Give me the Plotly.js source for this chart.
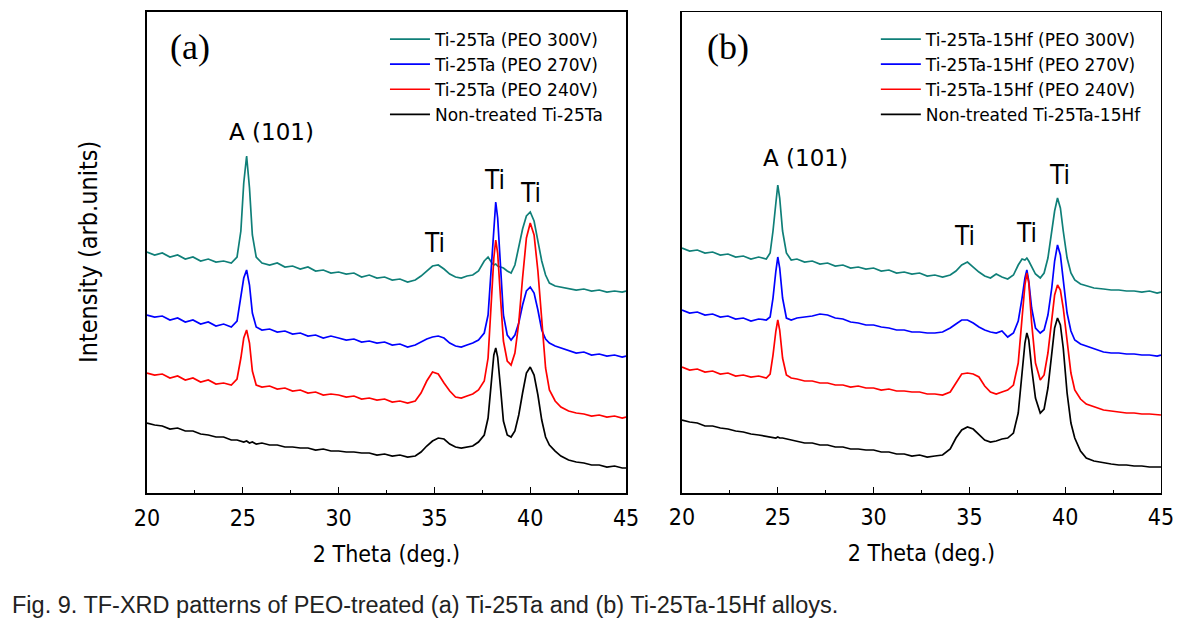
<!DOCTYPE html>
<html>
<head>
<meta charset="utf-8">
<script src="https://cdn.plot.ly/plotly-3.0.1.min.js"></script>
<style>html,body{margin:0;padding:0;background:#fff;}#chart{width:1190px;height:632px;}</style>
</head>
<body>
<div id="chart"></div>
<script>
// ---- Panel (a): Ti-25Ta ----
const thetaA = [20,20.4,20.8,21.2,21.6,22,22.4,22.8,23.2,23.6,24,24.4,24.7,24.9,25.05,25.2,25.35,25.5,25.7,26,26.4,26.8,27.2,27.6,28,28.4,28.8,29.2,29.6,30,30.4,30.8,31.2,31.6,32,32.4,32.8,33.2,33.6,34,34.3,34.6,34.9,35.2,35.5,35.8,36.1,36.4,36.7,37,37.3,37.6,37.8,38,38.1,38.2,38.3,38.45,38.6,38.8,39,39.2,39.4,39.6,39.8,40,40.2,40.4,40.6,40.8,41,41.3,41.6,42,42.4,42.8,43.2,43.6,44,44.4,44.8,45];
const a300 = [241,238,240,236,238,234,236,232,234,231,232,230,236,262,310,337,305,258,236,230,228,230,226,227,224,226,222,223,220,221,219,220,216,218,215,216,213,214,211,213,217,222,227,228,224,219,216,215,217,218,222,232,236,230,228,229,227,226,225,222,220,228,245,264,277,281,272,253,232,218,210,207,206,205,203,204,202,203,201,202,201,202];
const a270 = [178,176,177,173,175,171,173,169,171,167,169,166,172,195,215,223,208,180,166,163,164,161,162,159,160,157,158,155,157,155,153,154,151,152,150,151,148,149,146,148,151,154,156,157,155,150,147,146,148,150,153,160,178,235,270,291,275,225,178,158,153,158,170,188,202,206,200,183,163,154,150,147,145,142,140,141,138,139,137,138,136,137];
const a240 = [120,118,119,115,117,113,115,111,113,109,110,108,114,135,155,163,150,122,108,106,107,104,105,102,103,100,101,98,99,98,96,97,94,95,93,94,91,92,90,92,100,112,121,119,110,102,96,95,97,99,103,112,135,195,235,253,240,195,152,132,128,140,170,215,255,270,258,222,170,125,103,92,86,82,80,79,77,78,76,77,75,76];
const a0 = [70,68,67,64,65,62,62,59,58,56,56,53,53,52,51,52,50,51,49,50,48,48,46,46,45,45,43,44,42,42,41,41,40,40,38,39,37,38,36,37,41,47,52,55,54,49,46,45,46,47,51,58,75,118,138,145,136,105,72,58,56,62,78,100,120,126,118,98,73,56,48,42,37,33,31,30,28,28,26,27,25,25];

// ---- Panel (b): Ti-25Ta-15Hf ----
const thetaB = [20,20.4,20.8,21.2,21.6,22,22.4,22.8,23.2,23.6,24,24.4,24.6,24.75,24.9,25.0,25.1,25.25,25.45,25.7,26,26.4,26.8,27.2,27.6,28,28.4,28.8,29.2,29.6,30,30.4,30.8,31.2,31.6,32,32.4,32.8,33.2,33.6,34,34.3,34.6,34.9,35.2,35.5,35.8,36.1,36.4,36.7,37,37.3,37.55,37.75,37.9,38.0,38.1,38.25,38.45,38.7,38.9,39.1,39.3,39.45,39.6,39.75,39.9,40.1,40.3,40.5,40.8,41.1,41.5,42,42.4,42.8,43.2,43.6,44,44.4,44.8,45];
const b300 = [245,242,243,240,241,238,239,236,237,234,236,234,240,262,290,308,295,262,240,233,234,231,232,229,230,227,228,225,226,224,225,222,223,220,221,219,220,217,218,216,218,222,228,231,226,221,217,215,219,216,214,218,228,234,233,235,232,226,219,215,220,235,262,282,295,285,262,235,220,213,209,207,205,204,203,203,202,202,201,202,200,201];
const b270 = [183,180,181,178,179,176,177,174,175,172,174,173,176,195,222,236,225,195,175,173,175,176,177,179,178,175,174,171,170,168,168,166,165,163,163,161,161,160,160,161,165,169,173,173,170,166,163,161,160,162,156,160,172,195,215,223,212,185,165,160,163,178,205,232,248,238,212,180,162,153,149,147,144,141,140,140,139,139,138,138,137,138];
const b240 = [126,123,124,121,122,119,120,117,118,116,117,115,119,138,162,173,163,135,118,115,114,112,112,110,110,108,108,106,107,105,105,103,104,102,102,101,101,99,99,98,101,110,119,120,119,116,107,101,99,101,103,108,130,175,208,220,210,170,130,113,118,140,175,198,208,203,185,150,120,103,94,89,86,83,82,81,80,80,79,79,78,78];
const b0 = [73,71,70,67,67,65,64,62,61,59,58,57,56,56,55,56,55,55,54,53,52,50,50,48,48,46,46,44,44,43,43,41,41,39,39,37,38,36,37,38,44,55,63,66,64,58,53,51,52,54,55,60,80,120,150,160,153,125,95,80,84,105,140,165,175,168,145,100,70,55,42,35,32,30,29,28,28,27,27,26,26,26];

const namesA = ['Ti-25Ta (PEO 300V)','Ti-25Ta (PEO 270V)','Ti-25Ta (PEO 240V)','Non-treated Ti-25Ta'];
const namesB = ['Ti-25Ta-15Hf (PEO 300V)','Ti-25Ta-15Hf (PEO 270V)','Ti-25Ta-15Hf (PEO 240V)','Non-treated Ti-25Ta-15Hf'];
const colors = ['#0f7f78','#0000ff','#ff0000','#000000'];
const tickVals = [20,25,30,35,40,45];

const seriesA = [a300,a270,a240,a0];
const seriesB = [b300,b270,b240,b0];
const traces = [];
seriesA.forEach((s,i)=>traces.push({x:thetaA,y:s,type:'scatter',mode:'lines',name:namesA[i],line:{color:colors[i],width:1.7},xaxis:'x',yaxis:'y',legend:'legend'}));
seriesB.forEach((s,i)=>traces.push({x:thetaB,y:s,type:'scatter',mode:'lines',name:namesB[i],line:{color:colors[i],width:1.7},xaxis:'x2',yaxis:'y2',legend:'legend2'}));

const cond = 'DejaVu Sans Condensed, Liberation Sans Narrow, sans-serif';
const tickFont = {family:cond,size:23,color:'#000'};
const xLabFont = {family:cond,size:23,color:'#000'};
const yLabFont = {family:cond,size:25,color:'#000'};
const aFont = {family:'DejaVu Sans, sans-serif',size:23,color:'#000'};
const tiFont = {family:cond,size:26,color:'#000'};
const legFont = {family:'DejaVu Sans, sans-serif',size:17,color:'#000'};

function xax(domain, lw){
  return {domain:domain, range:[20,45], tickvals:tickVals, ticktext:tickVals.map(String), ticks:'inside', ticklen:6, tickwidth:1.3, tickcolor:'#000',
    minor:{dtick:2.5, tick0:20, ticks:'inside', ticklen:3.5, tickwidth:1, tickcolor:'#000'},
    showline:true, linecolor:'#000', linewidth:lw, mirror:true, showgrid:false, zeroline:false, tickfont:tickFont, ticklabelstandoff:3,
    title:{text:'2 Theta (deg.)', font:xLabFont, standoff:16}, fixedrange:true};
}
function yax(lw, anchor){
  return {domain:[0.2199,0.981], range:[0,481], showticklabels:false, ticks:'', showline:true, linecolor:'#000', linewidth:lw, mirror:true,
    showgrid:false, zeroline:false, anchor:anchor, fixedrange:true};
}

const layout = {
  width:1190, height:632, margin:{l:0,r:0,t:0,b:0}, paper_bgcolor:'#fff', plot_bgcolor:'#fff',
  xaxis: xax([0.1235,0.5261],2), yaxis: yax(2,'x'),
  xaxis2: Object.assign(xax([0.5731,0.9756],1.5),{anchor:'y2'}), yaxis2: yax(1.5,'x2'),
  legend:{x:0.3235, y:0.966, xanchor:'left', yanchor:'top', bgcolor:'rgba(0,0,0,0)', font:legFont, tracegroupgap:0, itemwidth:40},
  legend2:{x:0.736, y:0.966, xanchor:'left', yanchor:'top', bgcolor:'rgba(0,0,0,0)', font:legFont, tracegroupgap:0, itemwidth:40},
  annotations:[
    {text:'Intensity (arb.units)', xref:'paper', yref:'paper', x:88/1190, y:(632-252)/632, textangle:-90, showarrow:false, font:yLabFont, xanchor:'center', yanchor:'middle'},
    {text:'(a)', xref:'x', yref:'y', x:22.24, y:446, showarrow:false, font:{family:'Liberation Serif, Times New Roman, serif', size:36, color:'#000'}},
    {text:'(b)', xref:'x2', yref:'y2', x:22.4, y:446, showarrow:false, font:{family:'Liberation Serif, Times New Roman, serif', size:36, color:'#000'}},
    {text:'A (101)', xref:'x', yref:'y', x:26.5, y:361, showarrow:false, font:aFont},
    {text:'Ti', xref:'x', yref:'y', x:35.03, y:250, showarrow:false, font:tiFont},
    {text:'Ti', xref:'x', yref:'y', x:38.16, y:313, showarrow:false, font:tiFont},
    {text:'Ti', xref:'x', yref:'y', x:39.99, y:300, showarrow:false, font:tiFont},
    {text:'A (101)', xref:'x2', yref:'y2', x:26.47, y:335, showarrow:false, font:aFont},
    {text:'Ti', xref:'x2', yref:'y2', x:34.77, y:257, showarrow:false, font:tiFont},
    {text:'Ti', xref:'x2', yref:'y2', x:38.0, y:260, showarrow:false, font:tiFont},
    {text:'Ti', xref:'x2', yref:'y2', x:39.73, y:318, showarrow:false, font:tiFont},
    {text:'Fig. 9. TF-XRD patterns of PEO-treated (a) Ti-25Ta and (b) Ti-25Ta-15Hf alloys.', xref:'paper', yref:'paper', x:10/1190, y:(632-605)/632, xanchor:'left', yanchor:'middle', showarrow:false,
      font:{family:'Liberation Sans, Arial, sans-serif', size:23.5, color:'#222'}}
  ]
};
Plotly.newPlot('chart', traces, layout, {staticPlot:true, displayModeBar:false});
</script>
</body>
</html>
